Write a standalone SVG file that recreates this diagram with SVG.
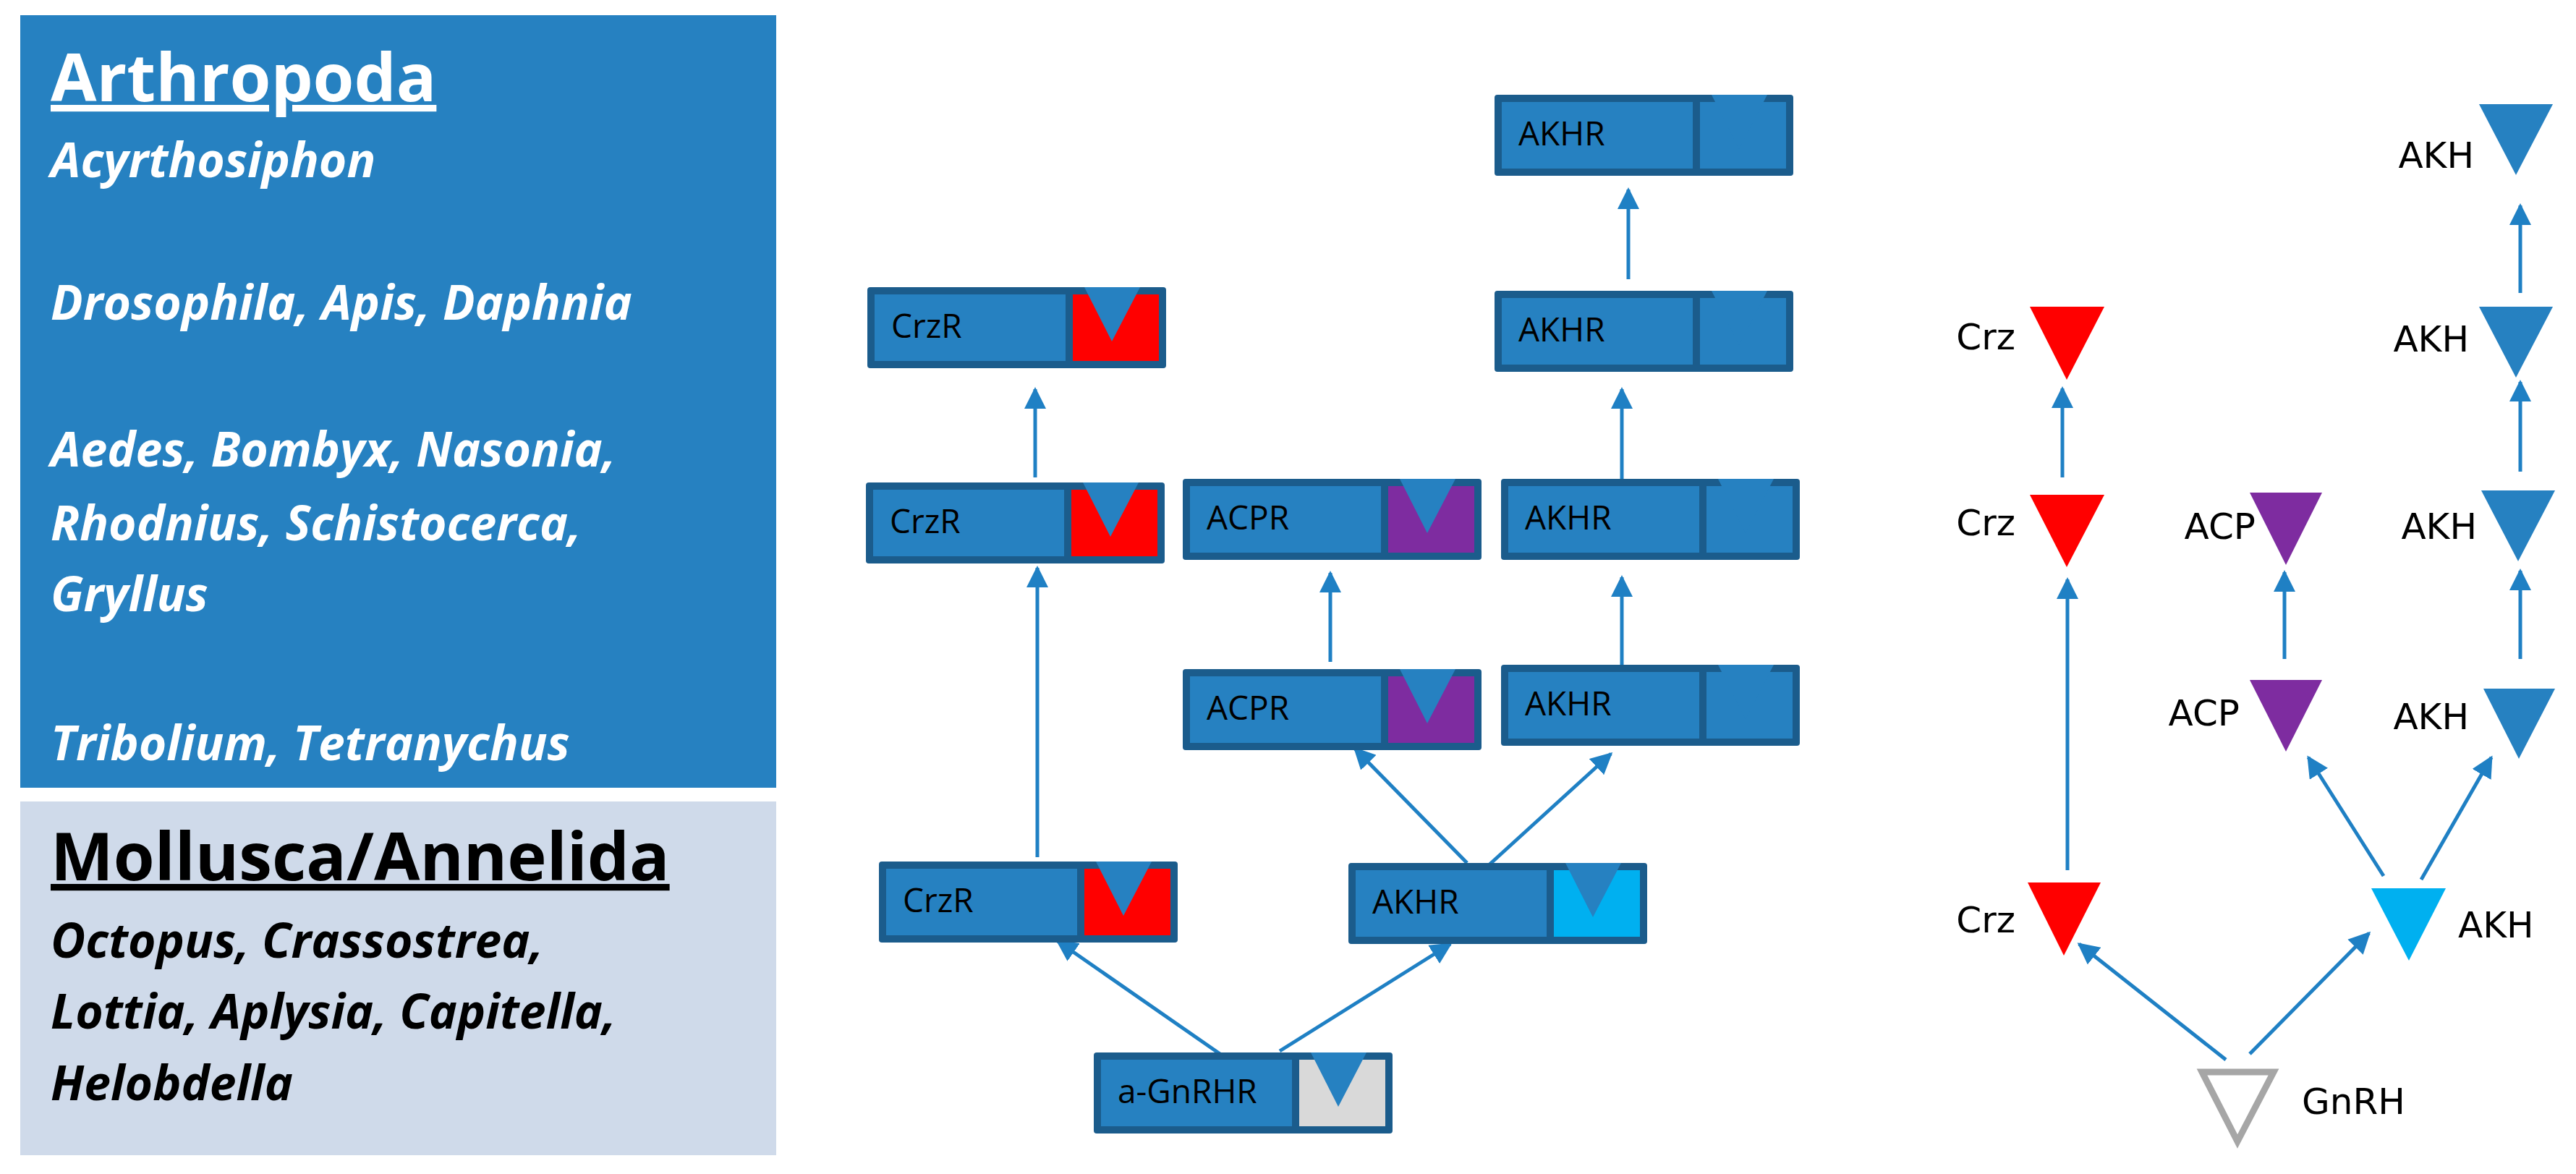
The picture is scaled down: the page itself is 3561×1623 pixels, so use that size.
<svg xmlns="http://www.w3.org/2000/svg" width="3561" height="1623" viewBox="0 0 3561 1623">
<style>
.bx{fill:#1B5C8C}.in{fill:#2681C1}.v{fill:#2681C1}
.bl{font-family:"Open Sans","Liberation Sans",sans-serif;font-size:46px;fill:#000}
.pl{font-family:"DejaVu Sans",sans-serif;font-size:50px;fill:#000}
.c{stroke:#1F80C4;stroke-width:5;fill:none}
.h1{font-family:"Open Sans","Liberation Sans",sans-serif;font-weight:bold;font-size:92px;text-decoration:underline}
.it{font-family:"Open Sans","Liberation Sans",sans-serif;font-weight:bold;font-style:italic;font-size:66px}
</style>
<defs>
<marker id="ah" viewBox="0 0 10 10" refX="9" refY="5" markerWidth="6" markerHeight="6" orient="auto" markerUnits="strokeWidth"><path d="M0,0L10,5L0,10z" fill="#1F80C4"/></marker>
</defs>
<g id="panel-arthropoda">
<rect x="28" y="21" width="1045" height="1068" fill="#2681C1"/>
<text class="h1" x="70" y="140" fill="#fff">Arthropoda</text>
<text class="it" fill="#fff"><tspan x="70" y="245">Acyrthosiphon</tspan><tspan x="70" y="442">Drosophila,  Apis, Daphnia</tspan><tspan x="70" y="645">Aedes, Bombyx, Nasonia,</tspan><tspan x="70" y="747">Rhodnius, Schistocerca,</tspan><tspan x="70" y="845">Gryllus</tspan><tspan x="70" y="1051">Tribolium,  Tetranychus</tspan></text>
</g>
<g id="panel-mollusca">
<rect x="28" y="1108" width="1045" height="489" fill="#CFDAEA"/>
<text class="h1" x="70" y="1217" fill="#000">Mollusca/Annelida</text>
<text class="it" fill="#000"><tspan x="70" y="1324">Octopus, Crassostrea,</tspan><tspan x="70" y="1422">Lottia, Aplysia, Capitella,</tspan><tspan x="70" y="1521">Helobdella</tspan></text>
</g>
<g id="connectors">
<line class="c" x1="2251" y1="386" x2="2251" y2="262" marker-end="url(#ah)"/>
<line class="c" x1="1431" y1="660" x2="1431" y2="538" marker-end="url(#ah)"/>
<line class="c" x1="2242" y1="662" x2="2242" y2="538" marker-end="url(#ah)"/>
<line class="c" x1="1434" y1="1185" x2="1434" y2="785" marker-end="url(#ah)"/>
<line class="c" x1="1839" y1="915" x2="1839" y2="792" marker-end="url(#ah)"/>
<line class="c" x1="2242" y1="919" x2="2242" y2="798" marker-end="url(#ah)"/>
<line class="c" x1="2028" y1="1193" x2="1873" y2="1035" marker-end="url(#ah)"/>
<line class="c" x1="2058" y1="1196" x2="2227" y2="1042" marker-end="url(#ah)"/>
<line class="c" x1="1698" y1="1465" x2="1462" y2="1301" marker-end="url(#ah)"/>
<line class="c" x1="1769" y1="1453" x2="2005" y2="1305" marker-end="url(#ah)"/>
<line class="c" x1="3484" y1="405" x2="3484" y2="284" marker-end="url(#ah)"/>
<line class="c" x1="3484" y1="652" x2="3484" y2="528" marker-end="url(#ah)"/>
<line class="c" x1="3484" y1="911" x2="3484" y2="789" marker-end="url(#ah)"/>
<line class="c" x1="2851" y1="660" x2="2851" y2="537" marker-end="url(#ah)"/>
<line class="c" x1="2858" y1="1203" x2="2858" y2="801" marker-end="url(#ah)"/>
<line class="c" x1="3158" y1="911" x2="3158" y2="791" marker-end="url(#ah)"/>
<line class="c" x1="3295" y1="1211" x2="3191" y2="1047" marker-end="url(#ah)"/>
<line class="c" x1="3347" y1="1216" x2="3444" y2="1047" marker-end="url(#ah)"/>
<line class="c" x1="3077" y1="1465" x2="2874" y2="1305" marker-end="url(#ah)"/>
<line class="c" x1="3110" y1="1457" x2="3275" y2="1290" marker-end="url(#ah)"/>
</g>
<g id="n-akhr1" transform="translate(2066,131)"><rect class="bx" width="413" height="112" rx="4"/><rect class="in" x="10" y="10" width="264" height="92"/><rect x="284" y="10" width="119" height="92" fill="#2681C1"/><polygon class="v" points="300,0 377,0 338,75"/><text class="bl" x="33" y="70">AKHR</text></g>
<g id="n-akhr2" transform="translate(2066,402)"><rect class="bx" width="413" height="112" rx="4"/><rect class="in" x="10" y="10" width="264" height="92"/><rect x="284" y="10" width="119" height="92" fill="#2681C1"/><polygon class="v" points="300,0 377,0 338,75"/><text class="bl" x="33" y="70">AKHR</text></g>
<g id="n-crzr1" transform="translate(1199,397)"><rect class="bx" width="413" height="112" rx="4"/><rect class="in" x="10" y="10" width="264" height="92"/><rect x="284" y="10" width="119" height="92" fill="#FF0000"/><polygon class="v" points="300,0 377,0 338,75"/><text class="bl" x="33" y="70">CrzR</text></g>
<g id="n-crzr2" transform="translate(1197,667)"><rect class="bx" width="413" height="112" rx="4"/><rect class="in" x="10" y="10" width="264" height="92"/><rect x="284" y="10" width="119" height="92" fill="#FF0000"/><polygon class="v" points="300,0 377,0 338,75"/><text class="bl" x="33" y="70">CrzR</text></g>
<g id="n-acpr1" transform="translate(1635,662)"><rect class="bx" width="413" height="112" rx="4"/><rect class="in" x="10" y="10" width="264" height="92"/><rect x="284" y="10" width="119" height="92" fill="#7E2CA0"/><polygon class="v" points="300,0 377,0 338,75"/><text class="bl" x="33" y="70">ACPR</text></g>
<g id="n-akhr3" transform="translate(2075,662)"><rect class="bx" width="413" height="112" rx="4"/><rect class="in" x="10" y="10" width="264" height="92"/><rect x="284" y="10" width="119" height="92" fill="#2681C1"/><polygon class="v" points="300,0 377,0 338,75"/><text class="bl" x="33" y="70">AKHR</text></g>
<g id="n-acpr2" transform="translate(1635,925)"><rect class="bx" width="413" height="112" rx="4"/><rect class="in" x="10" y="10" width="264" height="92"/><rect x="284" y="10" width="119" height="92" fill="#7E2CA0"/><polygon class="v" points="300,0 377,0 338,75"/><text class="bl" x="33" y="70">ACPR</text></g>
<g id="n-akhr4" transform="translate(2075,919)"><rect class="bx" width="413" height="112" rx="4"/><rect class="in" x="10" y="10" width="264" height="92"/><rect x="284" y="10" width="119" height="92" fill="#2681C1"/><polygon class="v" points="300,0 377,0 338,75"/><text class="bl" x="33" y="70">AKHR</text></g>
<g id="n-crzr3" transform="translate(1215,1191)"><rect class="bx" width="413" height="112" rx="4"/><rect class="in" x="10" y="10" width="264" height="92"/><rect x="284" y="10" width="119" height="92" fill="#FF0000"/><polygon class="v" points="300,0 377,0 338,75"/><text class="bl" x="33" y="70">CrzR</text></g>
<g id="n-akhr5" transform="translate(1864,1193)"><rect class="bx" width="413" height="112" rx="4"/><rect class="in" x="10" y="10" width="264" height="92"/><rect x="284" y="10" width="119" height="92" fill="#00B0F0"/><polygon class="v" points="300,0 377,0 338,75"/><text class="bl" x="33" y="70">AKHR</text></g>
<g id="n-gnrhr" transform="translate(1512,1455)"><rect class="bx" width="413" height="112" rx="4"/><rect class="in" x="10" y="10" width="264" height="92"/><rect x="284" y="10" width="119" height="92" fill="#D9D9D9"/><polygon class="v" points="300,0 377,0 338,75"/><text class="bl" x="33" y="70">a-GnRHR</text></g>
<g id="p-akh1"><polygon points="3427,144 3529,144 3478,242" fill="#2681C1"/><text class="pl" x="3420" y="232" text-anchor="end">AKH</text></g>
<g id="p-akh2"><polygon points="3427,424 3529,424 3478,522" fill="#2681C1"/><text class="pl" x="3413" y="486" text-anchor="end">AKH</text></g>
<g id="p-akh3"><polygon points="3430,678 3532,678 3481,776" fill="#2681C1"/><text class="pl" x="3424" y="745" text-anchor="end">AKH</text></g>
<g id="p-akh4"><polygon points="3433,952 3532,952 3482,1049" fill="#2681C1"/><text class="pl" x="3413" y="1008" text-anchor="end">AKH</text></g>
<g id="p-crz1"><polygon points="2806,424 2909,424 2857,525" fill="#FF0000"/><text class="pl" x="2786" y="483" text-anchor="end">Crz</text></g>
<g id="p-crz2"><polygon points="2806,684 2909,684 2857,784" fill="#FF0000"/><text class="pl" x="2786" y="740" text-anchor="end">Crz</text></g>
<g id="p-crz3"><polygon points="2803,1220 2904,1220 2853,1321" fill="#FF0000"/><text class="pl" x="2786" y="1289" text-anchor="end">Crz</text></g>
<g id="p-acp1"><polygon points="3110,681 3210,681 3160,781" fill="#7E2CA0"/><text class="pl" x="3118" y="745" text-anchor="end">ACP</text></g>
<g id="p-acp2"><polygon points="3110,940 3210,940 3160,1039" fill="#7E2CA0"/><text class="pl" x="3096" y="1003" text-anchor="end">ACP</text></g>
<g id="p-akh5"><polygon points="3278,1228 3381,1228 3330,1328" fill="#00B0F0"/><text class="pl" x="3398" y="1296">AKH</text></g>
<g id="p-gnrh"><polygon points="3044,1482 3143,1482 3093,1578" fill="none" stroke="#A6A6A6" stroke-width="9"/><text class="pl" x="3182" y="1540">GnRH</text></g>
</svg>
